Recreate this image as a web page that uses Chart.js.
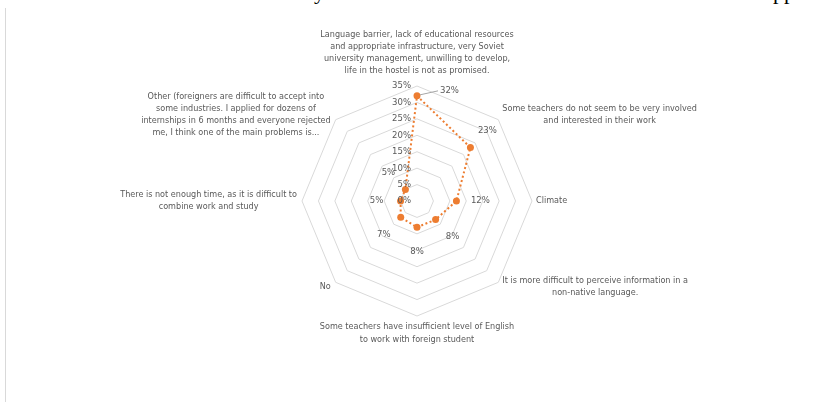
<!DOCTYPE html>
<html>
<head>
<meta charset="utf-8">
<script src="https://cdn.jsdelivr.net/npm/chart.js@4/dist/chart.umd.min.js"></script>
<style>
  html,body{margin:0;padding:0;background:#fff;width:816px;height:402px;overflow:hidden;position:relative;}
  #frame{position:absolute;left:5px;top:8px;bottom:0;border-left:1px solid #d9d9d9;}
  #clip{position:absolute;top:-19px;left:0;width:816px;font:22px/22px "Liberation Serif",serif;color:#000;white-space:nowrap;}
  #clip span{position:absolute;}
  canvas{position:absolute;left:0;top:0;}
</style>
</head>
<body>
<div id="clip"><span style="left:314px">y</span><span style="left:773px">pp</span></div>
<div id="frame"></div>
<canvas id="c" width="816" height="402"></canvas>
<script>
const categories = [
  ["Language barrier, lack of educational resources","and appropriate infrastructure, very Soviet","university management, unwilling to develop,","life in the hostel is not as promised."],
  ["Some teachers do not seem to be very involved","and interested in their work"],
  ["Climate"],
  ["It is more difficult to perceive information in a","non-native language."],
  ["Some teachers have insufficient level of English","to work with foreign student"],
  ["No"],
  ["There is not enough time, as it is difficult to","combine work and study"],
  ["Other (foreigners are difficult to accept into","some industries. I applied for dozens of","internships in 6 months and everyone rejected","me, I think one of the main problems is..."]
];
const values = [32, 23, 12, 8, 8, 7, 5, 5];
const tickValues = [0, 5, 10, 15, 20, 25, 30, 35];
const tickLabels = ["0%", "5%", "10%", "15%", "20%", "25%", "30%", "35%"];
const valueLabels = ["32%", "23%", "12%", "8%", "8%", "7%", "5%", "5%"];

const FONT = '"Liberation Sans Narrow","DejaVu Sans Condensed",sans-serif';
const TXT = '#595959';
const ORANGE = '#ED7D31';

const labelPlugin = {
  id: 'customLabels',
  afterDatasetsDraw(chart) {
    const ctx = chart.ctx;
    const s = chart.scales.r;
    const cx = s.xCenter, cy = s.yCenter;
    ctx.save();
    // tick labels along the top axis
    ctx.fillStyle = TXT;
    ctx.font = '9.5px ' + FONT;
    ctx.textAlign = 'right';
    ctx.textBaseline = 'middle';
    tickValues.forEach((v, i) => {
      const d = s.getDistanceFromCenterForValue(v);
      ctx.fillText(tickLabels[i], cx - 6, cy - d);
    });
    // category labels (block anchored at vertex, lines centred in block)
    ctx.font = '9px ' + FONT;
    ctx.textAlign = 'center';
    ctx.textBaseline = 'middle';
    const lh = 12.2;
    categories.forEach((lines, i) => {
      const p = s.getPointPosition(i, s.drawingArea);
      const deg = Math.round(s.getIndexAngle(i) * 180 / Math.PI) % 360;
      const h = lines.length * lh;
      const w = Math.max(...lines.map(l => ctx.measureText(l).width));
      let x = p.x, yTop;
      if (deg === 0) { yTop = p.y - 9 - h; }
      else if (deg === 180) { yTop = p.y + 5; }
      else {
        x = deg < 180 ? p.x + 4 + w / 2 : p.x - 5 - w / 2;
        let mid = p.y;
        if (deg === 45 || deg === 315) mid = p.y - 5;
        if (deg === 135 || deg === 225) mid = p.y + 4;
        yTop = mid - h / 2;
      }
      lines.forEach((ln, k) => ctx.fillText(ln, x, yTop + lh * (k + 0.5)));
    });
    // data labels
    ctx.font = '9.5px ' + FONT;
    values.forEach((v, i) => {
      const p = s.getPointPositionForValue(i, v);
      if (i === 0) {
        ctx.strokeStyle = '#a6a6a6';
        ctx.lineWidth = 1;
        ctx.beginPath();
        ctx.moveTo(p.x + 3, p.y - 1);
        ctx.lineTo(p.x + 21, p.y - 5);
        ctx.stroke();
        ctx.textAlign = 'left';
        ctx.fillText(valueLabels[i], p.x + 23, p.y - 5);
        return;
      }
      const dx = p.x - cx, dy = p.y - cy;
      const L = Math.hypot(dx, dy) || 1;
      ctx.textAlign = 'center';
      ctx.fillText(valueLabels[i], p.x + dx / L * 24, p.y + dy / L * 24);
    });
    ctx.restore();
  }
};

new Chart(document.getElementById('c'), {
  type: 'radar',
  data: {
    labels: categories,
    datasets: [{
      data: values,
      borderColor: ORANGE,
      backgroundColor: ORANGE,
      borderWidth: 2,
      borderDash: [2, 2.5],
      fill: false,
      pointRadius: 3.5,
      pointBackgroundColor: ORANGE,
      pointBorderColor: ORANGE,
      pointBorderWidth: 0,
      tension: 0
    }]
  },
  options: {
    responsive: false,
    animation: false,
    devicePixelRatio: 1,
    layout: { padding: { left: 100, right: 82, top: 86, bottom: 86 } },
    plugins: { legend: { display: false }, tooltip: { enabled: false } },
    scales: {
      r: {
        min: 0,
        max: 35,
        ticks: { stepSize: 5, display: false },
        grid: { color: '#d9d9d9', lineWidth: 1, circular: false },
        angleLines: { display: false },
        pointLabels: { display: false }
      }
    }
  },
  plugins: [labelPlugin]
});
</script>
</body>
</html>
